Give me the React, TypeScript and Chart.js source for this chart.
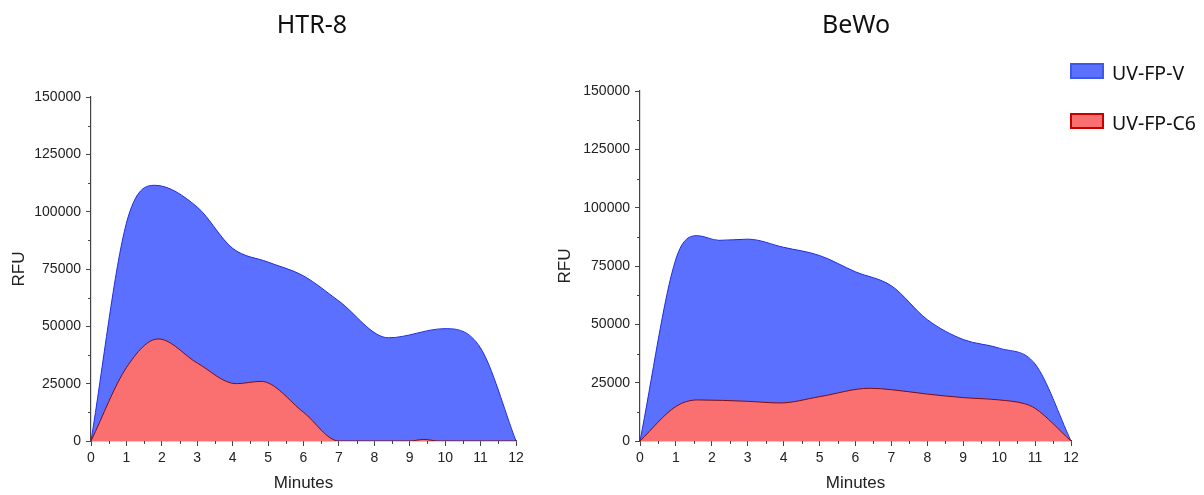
import React, { useEffect, useRef } from "react";
import { Chart, registerables } from "chart.js";

Chart.register(...registerables);

// ---------- data ----------
const htrVMinutes = [0, 1, 1.8, 3, 4, 5, 6, 7, 8.4, 10, 11, 12];
const htrVValues = [0, 95000, 111500, 102000, 84000, 78000, 72000, 61000, 45000, 49000, 40500, 0];

const htrC6Minutes = [0, 1, 1.9, 3, 4.1, 4.8, 6, 7, 9, 9.4, 9.8, 12];
const htrC6Values = [0, 32000, 44500, 34000, 25000, 26000, 12500, 0, 0, 700, 0, 0];

const bewoVMinutes = [0, 1, 1.6, 2.2, 3, 4, 5, 6, 7, 8, 9, 10, 11, 12];
const bewoVValues = [0, 78000, 88000, 86000, 86500, 83000, 79500, 72500, 66500, 52000, 43500, 39800, 33000, 0];

const bewoC6Minutes = [0, 1, 1.6, 3, 3.9, 5, 6.4, 7, 8, 9, 10, 10.7, 11, 12];
const bewoC6Values = [0, 14800, 17600, 17000, 16300, 19000, 22600, 22000, 20100, 18600, 17600, 16000, 14000, 0];

const seriesNames = ["UV-FP-V", "UV-FP-C6"];
const chartTitles = ["HTR-8", "BeWo"];

const yMax = 150000;
const yStep = 25000;
const xMax = 12;
const xStep = 1;

// ---------- styles ----------
const BLUE_FILL = "rgb(92,112,255)";
const BLUE_LINE = "rgb(30,45,220)";
const RED_FILL = "rgb(250,112,112)";
const RED_LINE = "rgb(130,10,10)";
const AXIS = "#444";
const TEXT = "#222";
const TICK_FONT = { family: "'Liberation Sans', Arial, sans-serif", size: 14 };
const AXIS_TITLE_FONT = { family: "'Liberation Sans', Arial, sans-serif", size: 17 };

const toPoints = (xs: number[], ys: number[]) => xs.map((x, i) => ({ x, y: ys[i] }));

const minorTicks = {
  id: "minorTicks",
  afterDraw(chart: any) {
    const { ctx, scales } = chart;
    const x = scales.x;
    const y = scales.y;
    ctx.save();
    ctx.strokeStyle = AXIS;
    ctx.lineWidth = 1;
    for (let v = yStep / 2; v < yMax; v += yStep) {
      const py = Math.round(y.getPixelForValue(v)) + 0.5;
      ctx.beginPath();
      ctx.moveTo(x.left - 3, py);
      ctx.lineTo(x.left, py);
      ctx.stroke();
    }
    for (let v = xStep / 2; v < xMax; v += xStep) {
      const px = Math.round(x.getPixelForValue(v)) + 0.5;
      ctx.beginPath();
      ctx.moveTo(px, y.bottom);
      ctx.lineTo(px, y.bottom + 3);
      ctx.stroke();
    }
    ctx.restore();
  },
};

function makeConfig(
  vPts: { x: number; y: number }[],
  cPts: { x: number; y: number }[],
  padTop: number,
  padRight: number,
  yAxisWidth: number,
  yTitlePad: number
): any {
  const common = {
    fill: "origin",
    borderWidth: 1,
    pointRadius: 0,
    cubicInterpolationMode: "monotone",
  };
  return {
    type: "line",
    data: {
      datasets: [
        {
          ...common,
          label: seriesNames[0],
          data: vPts,
          backgroundColor: BLUE_FILL,
          borderColor: BLUE_LINE,
          order: 1,
        },
        {
          ...common,
          label: seriesNames[1],
          data: cPts,
          backgroundColor: RED_FILL,
          borderColor: RED_LINE,
          order: 0,
        },
      ],
    },
    options: {
      animation: false,
      responsive: false,
      maintainAspectRatio: false,
      layout: { padding: { top: padTop, right: padRight, left: 0, bottom: 0 } },
      plugins: { legend: { display: false }, tooltip: { enabled: false }, title: { display: false } },
      scales: {
        x: {
          type: "linear",
          min: 0,
          max: xMax,
          ticks: {
            stepSize: xStep,
            font: TICK_FONT,
            color: TEXT,
            padding: 4,
            maxRotation: 0,
            autoSkip: false,
            callback: (v: number) => String(v),
          },
          grid: { display: true, drawOnChartArea: false, drawTicks: true, tickLength: 5, color: AXIS },
          border: { display: true, color: AXIS, width: 1.2 },
          title: { display: true, text: "Minutes", font: AXIS_TITLE_FONT, color: TEXT, padding: { top: 0, bottom: 1 } },
          afterFit: (s: any) => {
            s.height = 54;
          },
        },
        y: {
          type: "linear",
          min: 0,
          max: yMax,
          ticks: { stepSize: yStep, font: TICK_FONT, color: TEXT, padding: 5, callback: (v: number) => String(v) },
          grid: { display: true, drawOnChartArea: false, drawTicks: true, tickLength: 5, color: AXIS },
          border: { display: true, color: AXIS, width: 1.2 },
          title: { display: true, text: "RFU", font: AXIS_TITLE_FONT, color: TEXT, padding: { top: yTitlePad, bottom: 0 } },
          afterFit: (s: any) => {
            s.width = yAxisWidth;
          },
        },
      },
    },
    plugins: [minorTicks],
  };
}

export default function App() {
  const leftRef = useRef<HTMLCanvasElement>(null);
  const rightRef = useRef<HTMLCanvasElement>(null);

  useEffect(() => {
    const left = new Chart(
      leftRef.current as HTMLCanvasElement,
      makeConfig(toPoints(htrVMinutes, htrVValues), toPoints(htrC6Minutes, htrC6Values), 97, 24, 91, 9)
    );
    const right = new Chart(
      rightRef.current as HTMLCanvasElement,
      makeConfig(toPoints(bewoVMinutes, bewoVValues), toPoints(bewoC6Minutes, bewoC6Values), 91, 17, 92, 7)
    );
    return () => {
      left.destroy();
      right.destroy();
    };
  }, []);

  const titleStyle: React.CSSProperties = {
    position: "absolute",
    top: 11,
    transform: "translateX(-50%)",
    fontFamily: "'Noto Sans', 'Open Sans', sans-serif",
    fontSize: 25,
    lineHeight: "25px",
    color: "#111",
    whiteSpace: "nowrap",
  };
  const legendText: React.CSSProperties = {
    position: "absolute",
    left: 1112,
    fontFamily: "'Noto Sans', 'Open Sans', sans-serif",
    fontSize: 19.5,
    lineHeight: "19px",
    color: "#111",
    whiteSpace: "nowrap",
  };

  return (
    <div style={{ position: "fixed", left: 0, top: 0, width: 1204, height: 495, background: "#fff", overflow: "hidden" }}>
      <canvas ref={leftRef} width={540} height={495} style={{ position: "absolute", left: 0, top: 0 }} />
      <canvas ref={rightRef} width={540} height={495} style={{ position: "absolute", left: 548, top: 0 }} />
      <div style={{ ...titleStyle, left: 312 }}>{chartTitles[0]}</div>
      <div style={{ ...titleStyle, left: 856 }}>{chartTitles[1]}</div>
      <div
        style={{
          position: "absolute",
          left: 1070,
          top: 63,
          width: 30,
          height: 12,
          background: BLUE_FILL,
          border: "2px solid rgb(60,90,230)",
        }}
      />
      <div style={{ ...legendText, top: 63 }}>{seriesNames[0]}</div>
      <div
        style={{
          position: "absolute",
          left: 1070,
          top: 113,
          width: 30,
          height: 12,
          background: RED_FILL,
          border: "2px solid rgb(200,0,0)",
        }}
      />
      <div style={{ ...legendText, top: 113 }}>{seriesNames[1]}</div>
    </div>
  );
}
